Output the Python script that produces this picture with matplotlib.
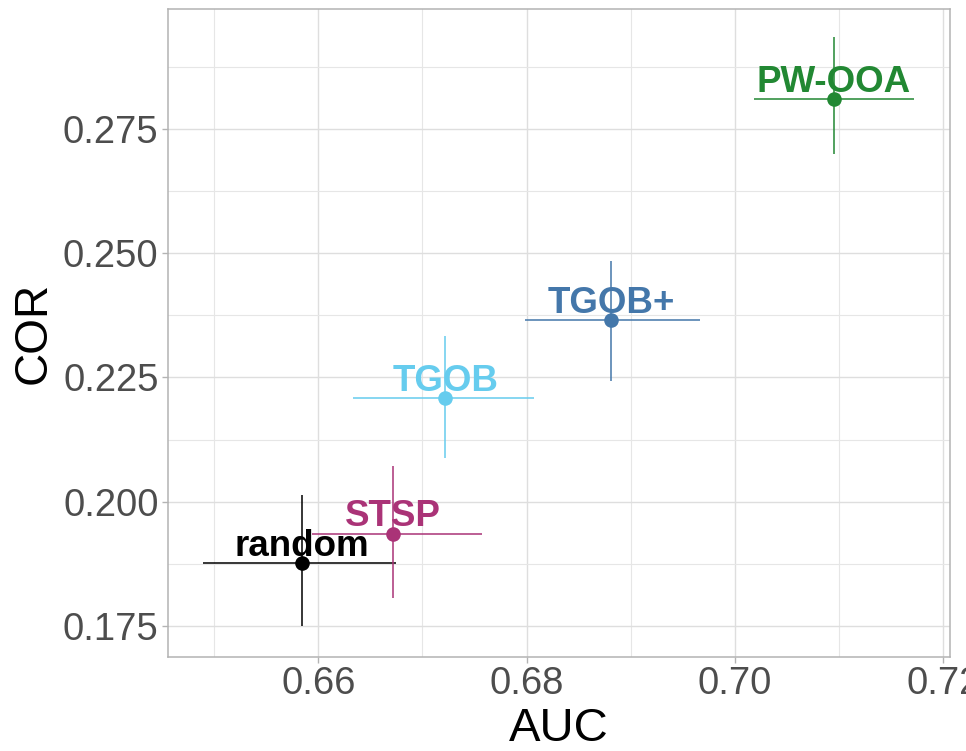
import matplotlib
matplotlib.use("Agg")
import matplotlib.pyplot as plt
from matplotlib.ticker import MultipleLocator

plt.rcParams['font.family'] = ['Liberation Sans', 'DejaVu Sans']

methods = ["random", "STSP", "TGOB", "TGOB+", "PW-OOA"]
auc = [0.6584, 0.6672, 0.6722, 0.6881, 0.7095]
auc_lo = [0.6489, 0.6594, 0.6633, 0.6798, 0.7018]
auc_hi = [0.6675, 0.6757, 0.6807, 0.6966, 0.7172]
cor = [0.1876, 0.1936, 0.2208, 0.2365, 0.2809]
cor_lo = [0.1749, 0.1807, 0.2087, 0.2243, 0.2699]
cor_hi = [0.2014, 0.2072, 0.2334, 0.2485, 0.2934]
colors = ["#000000", "#AA3377", "#66CCEE", "#4477AA", "#228833"]

fig = plt.figure(figsize=(9.66, 7.51), dpi=100)
ax = fig.add_axes([0.1742, 0.1256, 0.9834 - 0.1742, 0.9876 - 0.1256])

for m, x, xl, xh, y, yl, yh, c in zip(methods, auc, auc_lo, auc_hi, cor, cor_lo, cor_hi, colors):
    ax.plot([xl, xh], [y, y], color=c, lw=1.1, zorder=3, solid_capstyle='butt')
    ax.plot([x, x], [yl, yh], color=c, lw=1.1, zorder=3, solid_capstyle='butt')
    ax.plot([x], [y], 'o', color=c, markersize=10.5, markeredgewidth=0, zorder=4)
    ax.annotate(m, (x, y), xytext=(0, 5.5), textcoords='offset points',
                ha='center', va='baseline', fontsize=26.5, fontweight='bold',
                color=c, zorder=5)

ax.xaxis.set_minor_locator(MultipleLocator(0.01))
ax.yaxis.set_minor_locator(MultipleLocator(0.0125))
ax.set_xticks([0.66, 0.68, 0.70, 0.72])
ax.set_xticklabels(["0.66", "0.68", "0.70", "0.72"])
ax.set_yticks([0.175, 0.200, 0.225, 0.250, 0.275])
ax.set_yticklabels(["0.175", "0.200", "0.225", "0.250", "0.275"])
ax.set_xlim(0.6456, 0.72064)
ax.set_ylim(0.16883, 0.29904)

ax.grid(which='major', color='#DEDEDE', lw=1.0)
ax.grid(which='minor', color='#E6E6E6', lw=0.8)
ax.set_axisbelow(True)
for s in ax.spines.values():
    s.set_color('#B3B3B3')
    s.set_linewidth(1.1)
ax.tick_params(which='major', length=4, width=1.0, color='#B3B3B3',
               labelcolor='#4D4D4D', labelsize=27.5, pad=3)
ax.tick_params(which='minor', length=0)
ax.set_xlabel("AUC", fontsize=34, color='black', labelpad=3)
ax.set_ylabel("COR", fontsize=33, color='black', labelpad=5)

fig.savefig("out.png", dpi=100)
